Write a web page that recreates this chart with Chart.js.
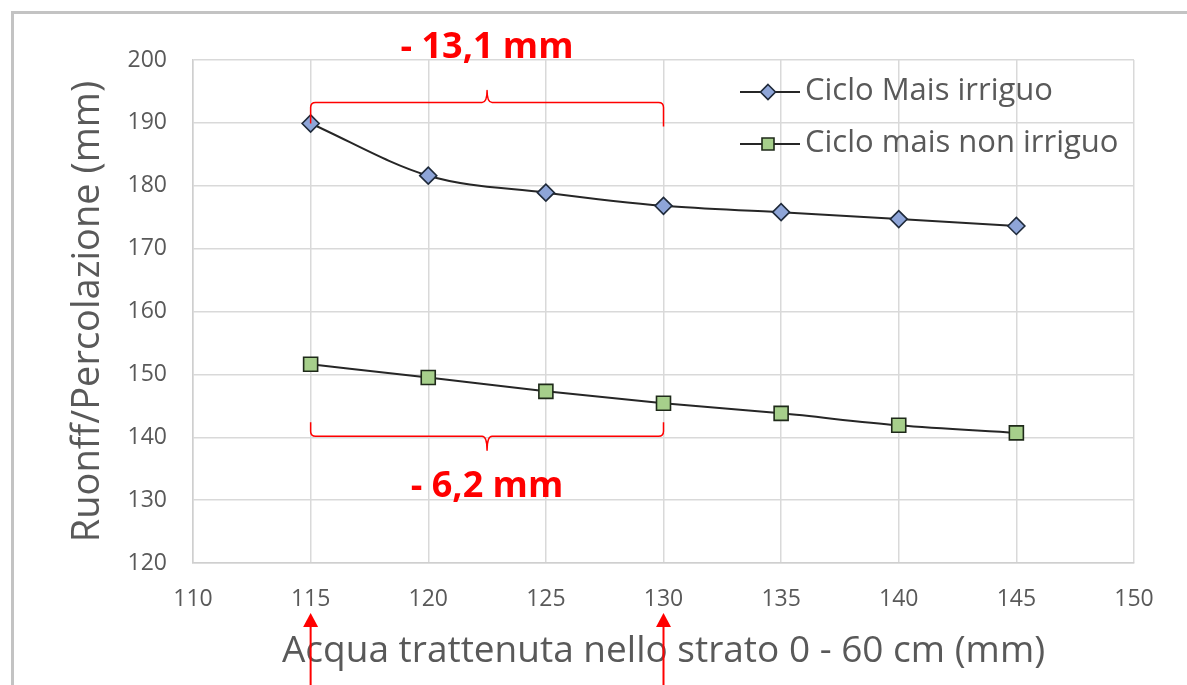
<!DOCTYPE html>
<html lang="it">
<head>
<meta charset="utf-8">
<title>Ruonff/Percolazione</title>
<script src="https://cdn.jsdelivr.net/npm/chart.js@4/dist/chart.umd.min.js"></script>
<style>
  html, body { margin: 0; padding: 0; background: #ffffff; }
  #wrap { position: relative; width: 1187px; height: 685px; }
</style>
</head>
<body>
<div id="wrap"><canvas id="c" width="1187" height="685"></canvas></div>
<script>
// Acqua trattenuta nello strato 0 - 60 cm (mm)
const acqua = [115, 120, 125, 130, 135, 140, 145];
// Ruonff/Percolazione (mm)
const maisIrriguo = [189.9, 181.6, 178.9, 176.8, 175.8, 174.7, 173.6];
const maisNonIrriguo = [151.6, 149.5, 147.3, 145.4, 143.8, 141.9, 140.7];
const seriesNames = ['Ciclo Mais irriguo', 'Ciclo mais non irriguo'];
const xTicks = { min: 110, max: 150, step: 5 };
const yTicks = { min: 120, max: 200, step: 10 };
// interval compared by the brackets
const confronto = [115, 130];

const GREY_TEXT = '#595959';
const GRID = '#d9d9d9';
const RED = '#ff0000';
const FONT = '"Open Sans", "Liberation Sans", sans-serif';

const toPoints = (xs, ys) => xs.map((x, i) => ({ x, y: ys[i] }));
const fmtDrop = (a, b) => '- ' + (a - b).toFixed(1).replace('.', ',') + ' mm';

const markerStyles = [
  { shape: 'diamond', fill: '#8ea5d8', stroke: '#1f2a3a', r: 8.5 },
  { shape: 'square', fill: '#a6cf8b', stroke: '#1f2a1a', r: 7 }
];

function marker(ctx, s, x, y) {
  ctx.save();
  ctx.beginPath();
  if (s.shape === 'diamond') {
    ctx.moveTo(x, y - s.r); ctx.lineTo(x + s.r, y); ctx.lineTo(x, y + s.r); ctx.lineTo(x - s.r, y); ctx.closePath();
  } else {
    ctx.rect(x - s.r, y - s.r, 2 * s.r, 2 * s.r);
  }
  ctx.fillStyle = s.fill; ctx.fill();
  ctx.lineWidth = 1.6; ctx.strokeStyle = s.stroke; ctx.stroke();
  ctx.restore();
}

// outer frame lines (left and top)
const framePlugin = {
  id: 'frame',
  beforeDraw(chart) {
    const ctx = chart.ctx;
    ctx.save();
    ctx.strokeStyle = '#c3c3c3';
    ctx.lineWidth = 3;
    ctx.beginPath();
    ctx.moveTo(12.5, chart.height); ctx.lineTo(12.5, 12.5); ctx.lineTo(chart.width, 12.5);
    ctx.stroke();
    ctx.restore();
  }
};

// legend inside the plot, top right
const legendPlugin = {
  id: 'insideLegend',
  afterDraw(chart) {
    const ctx = chart.ctx;
    const rows = [92, 144];
    const x0 = 740, x1 = 800, xm = 768;
    ctx.save();
    seriesNames.forEach((name, i) => {
      const y = rows[i];
      ctx.strokeStyle = '#262626'; ctx.lineWidth = 2.2;
      ctx.beginPath(); ctx.moveTo(x0, y); ctx.lineTo(x1, y); ctx.stroke();
      marker(ctx, Object.assign({}, markerStyles[i], { r: markerStyles[i].r - 1 }), xm, y);
      ctx.fillStyle = GREY_TEXT;
      ctx.font = '31px ' + FONT;
      ctx.textBaseline = 'middle';
      ctx.textAlign = 'left';
      ctx.fillText(name, 805, y - 1);
    });
    ctx.restore();
  }
};

// brackets, drop labels and arrows on the compared interval
const annotationPlugin = {
  id: 'drops',
  afterDraw(chart) {
    const ctx = chart.ctx;
    const xs = chart.scales.x, ys = chart.scales.y;
    const i0 = acqua.indexOf(confronto[0]), i1 = acqua.indexOf(confronto[1]);
    const xa = xs.getPixelForValue(confronto[0]);
    const xb = xs.getPixelForValue(confronto[1]);
    const xm = (xa + xb) / 2;
    ctx.save();
    ctx.strokeStyle = RED;
    ctx.fillStyle = RED;
    ctx.lineWidth = 1.5;
    ctx.lineJoin = 'round';

    function brace(yEndA, yEndB, yBar, yTip) {
      const r = 5;
      ctx.beginPath();
      ctx.moveTo(xa, yEndA);
      ctx.lineTo(xa, yBar + (yEndA > yBar ? r : -r));
      ctx.quadraticCurveTo(xa, yBar, xa + r, yBar);
      ctx.lineTo(xm - r, yBar);
      ctx.quadraticCurveTo(xm, yBar, xm, yTip);
      ctx.quadraticCurveTo(xm, yBar, xm + r, yBar);
      ctx.lineTo(xb - r, yBar);
      ctx.quadraticCurveTo(xb, yBar, xb, yBar + (yEndB > yBar ? r : -r));
      ctx.lineTo(xb, yEndB);
      ctx.stroke();
    }

    ctx.font = 'bold 36px ' + FONT;
    ctx.textAlign = 'center';
    ctx.textBaseline = 'middle';

    // upper series
    const pa = ys.getPixelForValue(maisIrriguo[i0]);
    const barTop = pa - 21;
    brace(pa, pa + 3, barTop, barTop - 12);
    ctx.fillText(fmtDrop(maisIrriguo[i0], maisIrriguo[i1]), xm, barTop - 55);

    // lower series
    const pb = ys.getPixelForValue(maisNonIrriguo[i1]);
    const barLow = pb + 33;
    brace(barLow - 14, barLow - 14, barLow, barLow + 14);
    ctx.fillText(fmtDrop(maisNonIrriguo[i0], maisNonIrriguo[i1]), xm, barLow + 50);

    // arrows pointing at the tick labels
    [xa, xb].forEach(x => {
      ctx.lineWidth = 2;
      ctx.beginPath(); ctx.moveTo(x, chart.height); ctx.lineTo(x, 624); ctx.stroke();
      ctx.beginPath(); ctx.moveTo(x, 613); ctx.lineTo(x + 7.5, 627); ctx.lineTo(x - 7.5, 627); ctx.closePath(); ctx.fill();
    });
    ctx.restore();
  }
};

const lineDataset = (i, ys) => ({
  label: seriesNames[i],
  data: toPoints(acqua, ys),
  borderColor: '#262626',
  borderWidth: 2,
  cubicInterpolationMode: 'monotone',
  pointStyle: markerStyles[i].shape === 'diamond' ? 'rectRot' : 'rect',
  pointRadius: markerStyles[i].shape === 'diamond' ? markerStyles[i].r : markerStyles[i].r * Math.SQRT2,
  pointHoverRadius: markerStyles[i].shape === 'diamond' ? markerStyles[i].r : markerStyles[i].r * Math.SQRT2,
  pointBackgroundColor: markerStyles[i].fill,
  pointBorderColor: markerStyles[i].stroke,
  pointBorderWidth: 1.6,
  fill: false
});

new Chart(document.getElementById('c'), {
  type: 'line',
  data: { datasets: [lineDataset(0, maisIrriguo), lineDataset(1, maisNonIrriguo)] },
  options: {
    responsive: false,
    animation: false,
    layout: { padding: { left: 50, right: 53, top: 60, bottom: 0 } },
    plugins: { legend: { display: false }, tooltip: { enabled: false } },
    scales: {
      x: {
        type: 'linear',
        min: xTicks.min, max: xTicks.max,
        afterFit(s) { s.height = 122; },
        border: { display: true, color: '#cfcfcf', width: 1.5 },
        grid: { color: GRID, lineWidth: 1.5, drawTicks: false },
        ticks: { stepSize: xTicks.step, padding: 23, color: GREY_TEXT, font: { family: FONT, size: 23 }, maxRotation: 0 },
        title: { display: true, text: 'Acqua trattenuta nello strato 0 - 60 cm (mm)', color: GREY_TEXT,
                 font: { family: FONT, size: 37 }, padding: { top: 0, bottom: 11 } }
      },
      y: {
        min: yTicks.min, max: yTicks.max,
        afterFit(s) { s.width = 143; },
        border: { display: true, color: '#cfcfcf', width: 1.5 },
        grid: { color: GRID, lineWidth: 1.5, drawTicks: false },
        ticks: { stepSize: yTicks.step, padding: 26, color: GREY_TEXT, font: { family: FONT, size: 23 } },
        title: { display: true, text: 'Ruonff/Percolazione (mm)', color: GREY_TEXT,
                 font: { family: FONT, size: 38 }, padding: { top: 15, bottom: 0 } }
      }
    }
  },
  plugins: [framePlugin, legendPlugin, annotationPlugin]
});
</script>
</body>
</html>
